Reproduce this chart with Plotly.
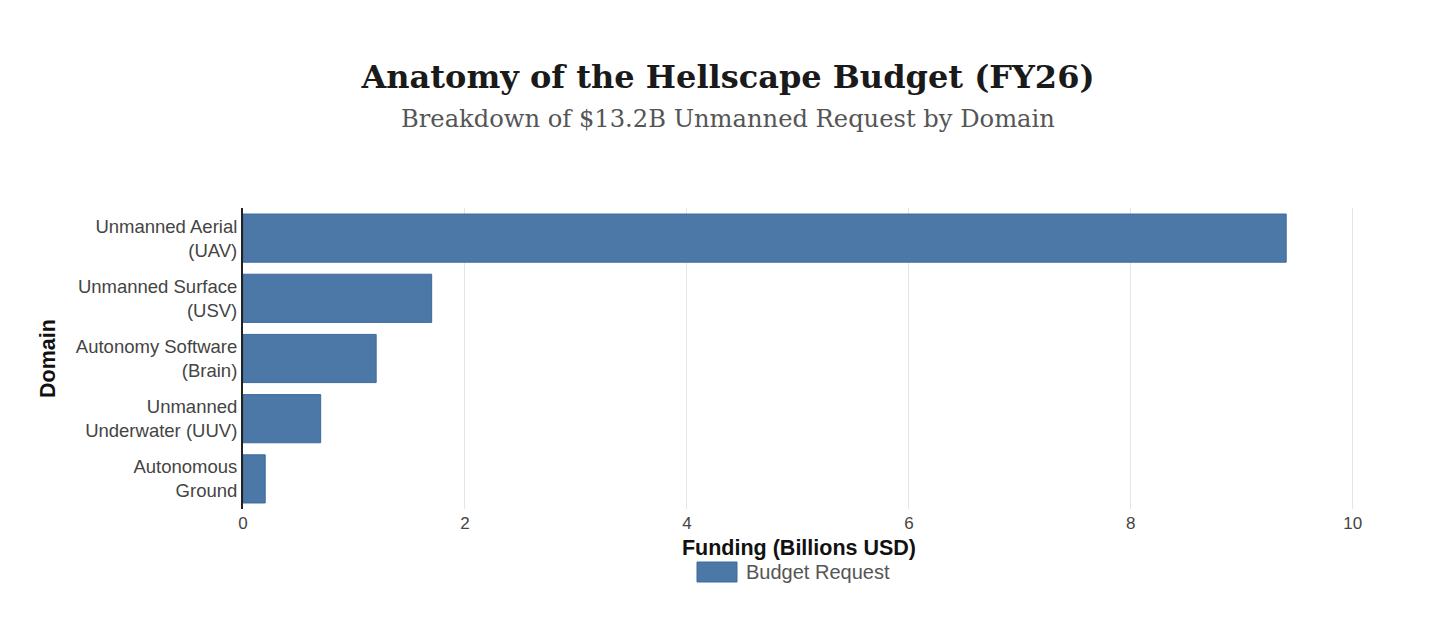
import plotly.graph_objects as go

categories = ["Unmanned Aerial<br>(UAV)", "Unmanned Surface<br>(USV)", "Autonomy Software<br>(Brain)",
              "Unmanned<br>Underwater (UUV)", "Autonomous<br>Ground"]
values = [9.4, 1.7, 1.2, 0.7, 0.2]
x_ticks = [0, 2, 4, 6, 8, 10]
series_name = "Budget Request"

BAR_COLOR = "#4c78a8"
BAR_EDGE = "#3d6a9c"

# figure size (page has 8px body margin)
OFF = 8
W, H = 1456 - 2 * OFF, 618 - 2 * OFF
L, R, T, B = 243 - OFF, 1456 - 1355 - OFF, 208 - OFF, 618 - 509 - OFF
PW, PH = W - L - R, H - T - B


def px_x(sx):  # screen x -> paper x
    return (sx - OFF - L) / PW


def px_y(sy):  # screen y -> paper y
    return (H - B - (sy - OFF)) / PH


fig = go.Figure()
fig.add_trace(go.Bar(
    y=categories, x=values, orientation="h", name=series_name,
    marker=dict(color=BAR_COLOR, line=dict(color=BAR_EDGE, width=1)),
    showlegend=False,
))

fig.update_layout(
    width=W, height=H,
    paper_bgcolor="white", plot_bgcolor="white",
    margin=dict(l=L, r=R, t=T, b=B, autoexpand=False),
    bargap=0.2,
    title=dict(text="<b>Anatomy of the Hellscape Budget (FY26)</b>",
               font=dict(family="DejaVu Serif", size=32, color="#1a1a1a"),
               x=0.5, xanchor="center", xref="container", y=1 - (77 - OFF) / H, yanchor="middle",
               yref="container"),
    annotations=[
        dict(text="Breakdown of $13.2B Unmanned Request by Domain",
             font=dict(family="DejaVu Serif", size=24.2, color="#555555"),
             x=px_x(728), xref="paper", xanchor="center",
             y=px_y(119), yref="paper", yanchor="middle", showarrow=False),
        dict(text=series_name, font=dict(family="Liberation Sans", size=20, color="#555555"),
             x=px_x(744), xref="paper", xanchor="left", y=px_y(572), yref="paper", yanchor="middle",
             showarrow=False),
    ],
    shapes=[dict(type="rect", xref="paper", yref="paper",
                 x0=px_x(697), x1=px_x(737), y0=px_y(582), y1=px_y(562),
                 fillcolor=BAR_COLOR, line=dict(color=BAR_EDGE, width=1))],
    font=dict(family="Liberation Sans", size=18, color="#444444"),
)
fig.update_xaxes(range=[0, 10.02], tickvals=x_ticks, showgrid=True, gridcolor="#e2e4e9", gridwidth=1,
                 zeroline=False, showline=False, ticks="", ticklabelstandoff=2,
                 tickfont=dict(size=17, color="#444444"),
                 title=dict(text="<b>Funding (Billions USD)</b>", font=dict(size=21.5, color="#111111"),
                            standoff=7))
fig.update_yaxes(autorange="reversed", showline=True, linecolor="#222222", linewidth=2, showgrid=False,
                 ticks="", tickfont=dict(size=18.5, color="#444444"),
                 title=dict(text="<b>Domain</b>", font=dict(size=21.5, color="#111111"), standoff=14))
fig.write_html("out.html")
